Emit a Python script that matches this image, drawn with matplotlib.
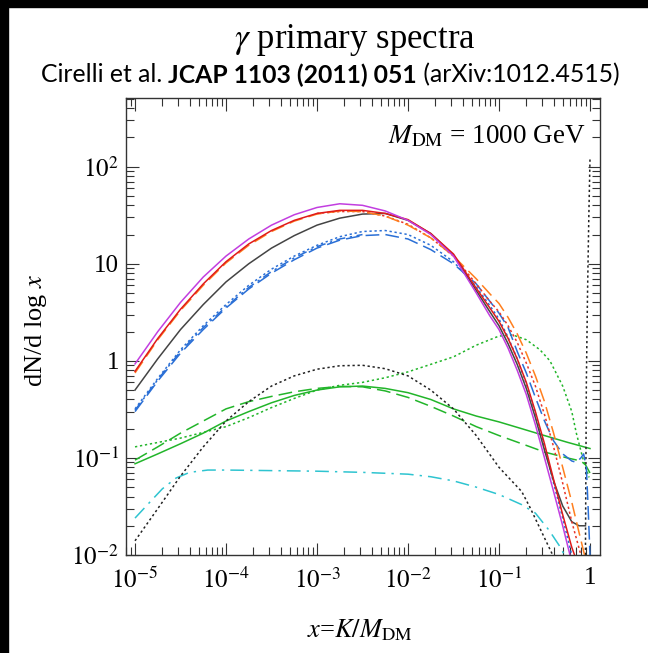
"""
Gamma primary spectra for M_DM = 1000 GeV (PPPC 4 DM ID style figure).
"""

import matplotlib

matplotlib.use("Agg")
import matplotlib.pyplot as plt
import numpy as np
from matplotlib.patches import Rectangle

# ---- values: log10(x), dN/dlog x ----
grid = [-5, -4.75, -4.5, -4.25, -4, -3.75, -3.5, -3.25, -3, -2.75, -2.5, -2.25, -2,
        -1.75, -1.5, -1.25]
tail = [-1.1, -1.0, -0.9, -0.8, -0.7, -0.6, -0.5, -0.4, -0.3]

magenta_lx = grid + tail + [-0.22]
magenta_y = [0.93, 2.0, 4.0, 7.3, 12, 18, 25, 32, 38, 41.5, 40, 35, 28, 20, 12, 5.0,
             2.9, 2.1, 1.35, 0.8, 0.45, 0.22, 0.1, 0.045, 0.02, 0.01]

red_lx = grid + tail + [-0.2, -0.17]
red_y = [0.78, 1.7, 3.4, 6.2, 10.5, 16, 22, 28, 33, 35.5, 35.5, 33, 28.5, 20.5, 12.6, 5.6,
         3.5, 2.55, 1.7, 1.05, 0.6, 0.3, 0.14, 0.06, 0.026, 0.012, 0.01]

orange_lx = grid + tail + [-0.2, -0.12, -0.06]
orange_y = [0.75, 1.65, 3.3, 6.0, 10.2, 15.5, 21.5, 27.5, 32.5, 35, 34.5, 31, 25, 18.5, 12, 7.0,
            4.9, 3.9, 2.8, 1.9, 1.2, 0.7, 0.38, 0.18, 0.08, 0.035, 0.017, 0.01]

reddot_lx = [-3, -2.75, -2.5, -2.25, -2, -1.75, -1.5, -1.25] + tail + [-0.2, -0.1]
reddot_y = [33, 34.5, 34.5, 31, 25.5, 18.5, 12, 6.2,
            4.1, 3.2, 2.3, 1.55, 0.95, 0.55, 0.28, 0.13, 0.055, 0.022, 0.01]

black_lx = grid + tail + [-0.2, -0.12, -0.05]
black_y = [0.5, 1.05, 2.1, 3.8, 6.5, 10, 14.5, 19.5, 25, 29.5, 32.5, 33, 28, 20.5, 12.3, 5.3,
           3.2, 2.3, 1.5, 0.92, 0.52, 0.26, 0.12, 0.058, 0.032, 0.022, 0.02, 0.02]

bluedash_lx = grid + tail + [-0.2, -0.15, -0.1, -0.07, -0.04, -0.02, 0.0]
bluedash_y = [0.3, 0.62, 1.2, 2.1, 3.5, 5.5, 8, 11, 14.5, 17.5, 19.5, 20, 18, 14, 10, 6.2,
              4.1, 3.1, 2.2, 1.25, 0.75, 0.42, 0.24, 0.15, 0.11, 0.093, 0.09, 0.1, 0.11, 0.08,
              0.03, 0.01]

bluedot_lx = grid + tail + [-0.2]
bluedot_y = [0.32, 0.66, 1.3, 2.3, 3.8, 6, 8.8, 12, 15.5, 19, 21.5, 22, 20, 15.5, 10.5, 5.8,
             3.7, 2.7, 1.75, 1.05, 0.58, 0.29, 0.13, 0.055, 0.024, 0.01]

bluedashdot_lx = [-5, -4.75, -4.5, -4.25, -4, -3.75, -3.5, -3.25, -3, -2.75, -2.5]
bluedashdot_y = [0.31, 0.64, 1.25, 2.2, 3.6, 5.7, 8.3, 11.5, 15, 18, 20]

blackdot_lx = grid + [-1, -0.75, -0.66, -0.5, -0.41]
blackdot_y = [0.014, 0.03, 0.065, 0.13, 0.24, 0.38, 0.55, 0.7, 0.82, 0.89, 0.9, 0.83, 0.7, 0.5,
              0.32, 0.17, 0.08, 0.045, 0.031, 0.015, 0.01]

spike_lx = [-0.05, -0.04, -0.027, -0.013, 0.0]
spike_y = [0.01, 0.6, 5, 30, 120]

greensolid_lx = grid + [-1, -0.75, -0.5, -0.25, 0.0]
greensolid_y = [0.087, 0.11, 0.14, 0.18, 0.24, 0.3, 0.37, 0.44, 0.5, 0.54, 0.55, 0.52, 0.47,
                0.4, 0.32, 0.27, 0.235, 0.2, 0.17, 0.145, 0.125]

greendash_lx = grid + [-1, -0.75, -0.5, -0.25, -0.1, -0.05, 0.0]
greendash_y = [0.095, 0.13, 0.18, 0.24, 0.32, 0.38, 0.43, 0.48, 0.52, 0.545, 0.54, 0.49, 0.42,
               0.34, 0.27, 0.21, 0.17, 0.14, 0.115, 0.1, 0.093, 0.085, 0.07]

greendot_lx = [-5, -4.5, -4, -3.75, -3.5, -3.25, -3, -2.75, -2.5, -2.25, -2, -1.75, -1.5, -1.25,
               -1, -0.85, -0.7, -0.55, -0.44, -0.3, -0.2, -0.15, -0.08, -0.01]
greendot_y = [0.13, 0.16, 0.21, 0.26, 0.33, 0.41, 0.5, 0.56, 0.6, 0.67, 0.77, 0.92, 1.1, 1.45,
              1.8, 1.85, 1.65, 1.3, 1.0, 0.55, 0.3, 0.18, 0.1, 0.063]

cyan_lx = [-5, -4.85, -4.7, -4.55, -4.4, -4.2, -4, -3.5, -3, -2.5, -2, -1.75, -1.5, -1.25, -1,
           -0.75, -0.6, -0.45, -0.34, -0.28]
cyan_y = [0.024, 0.034, 0.048, 0.062, 0.071, 0.075, 0.075, 0.074, 0.073, 0.071, 0.068, 0.064,
          0.058, 0.05, 0.042, 0.033, 0.027, 0.018, 0.0126, 0.01]

xtick_vals = [1e-5, 1e-4, 1e-3, 1e-2, 1e-1, 1]
xtick_labels = [r"$10^{-5}$", r"$10^{-4}$", r"$10^{-3}$", r"$10^{-2}$", r"$10^{-1}$", "1"]
ytick_vals = [1e-2, 1e-1, 1, 10, 100]
ytick_labels = [r"$10^{-2}$", r"$10^{-1}$", "1", "10", r"$10^{2}$"]

plt.rcParams["font.family"] = "serif"
plt.rcParams["font.serif"] = ["Liberation Serif", "DejaVu Serif"]
plt.rcParams["mathtext.fontset"] = "stix"

W, H = 648, 653
fig = plt.figure(figsize=(W / 100, H / 100), dpi=100)
fig.patch.set_facecolor("white")

# black frame strips of the screenshot
fig.patches.append(Rectangle((0, 0), 8 / W, 1, transform=fig.transFigure, color="black", zorder=0))
fig.patches.append(Rectangle((0, 1 - 7 / H), 1, 7 / H, transform=fig.transFigure, color="black", zorder=0))

ax = fig.add_axes([126 / W, 1 - 555 / H, (600 - 126) / W, (555 - 98) / H])
ax.set_xscale("log")
ax.set_yscale("log")

DOT = (1.5, 1.8)
DASH = (9, 4)
DASHDOT = (9, 4, 1.5, 4)


def curve(lx, y, color, dashes=None):
    kw = dict(color=color, lw=1.1)
    if dashes:
        kw["dashes"] = dashes
    ax.plot(np.power(10.0, lx), y, **kw)


curve(cyan_lx, cyan_y, "#2ec4d0", DASHDOT)
curve(greendot_lx, greendot_y, "#22b52a", DOT)
curve(greendash_lx, greendash_y, "#22b52a", DASH)
curve(greensolid_lx, greensolid_y, "#22b52a")
curve(blackdot_lx, blackdot_y, "#222222", DOT)
curve(spike_lx, spike_y, "#222222", DOT)
curve(bluedashdot_lx, bluedashdot_y, "#2a6fd6", (6, 3, 1.5, 3))
curve(bluedash_lx, bluedash_y, "#2a6fd6", DASH)
curve(bluedot_lx, bluedot_y, "#2a6fd6", DOT)
curve(black_lx, black_y, "#444444")
curve(reddot_lx, reddot_y, "#e8352a", DOT)
curve(orange_lx, orange_y, "#ff7f1e", DASH)
curve(red_lx, red_y, "#e01a1a")
curve(magenta_lx, magenta_y, "#c23ee0")

ax.set_xlim(10 ** -5.099, 10 ** 0.11)
ax.set_ylim(0.01, 510)

ax.set_xticks(xtick_vals)
ax.set_xticklabels(xtick_labels)
ax.set_yticks(ytick_vals)
ax.set_yticklabels(ytick_labels)
ax.tick_params(which="both", direction="in", top=True, right=True, color="#333333", width=0.8,
               labelsize=18)
ax.tick_params(which="major", length=9)
ax.tick_params(which="minor", length=6)
ax.tick_params(axis="x", pad=9)
ax.tick_params(axis="y", pad=5)
for s in ax.spines.values():
    s.set_color("#333333")
    s.set_linewidth(1.0)

ax.text(0.97, 0.915, r"$M_{\rm DM}$ = 1000 GeV", transform=ax.transAxes, ha="right", va="center",
        fontsize=19.5)

fig.text(36 / W, 1 - 330 / H, r"dN/d log $x$", rotation=90, ha="center", va="center", fontsize=19)
fig.text(360 / W, 1 - 630 / H, r"$x$=$K/M_{\rm DM}$", ha="center", va="center", fontsize=19)

fig.text(355 / W, 1 - 40 / H, r"$\gamma$ primary spectra", ha="center", va="center", fontsize=25)

# subtitle made of a normal / bold / normal run, centred as one line
sub_parts = [("Cirelli et al. ", "normal"), ("JCAP 1103 (2011) 051", "bold"),
             (" (arXiv:1012.4515)", "normal")]
renderer = fig.canvas.get_renderer()
texts, widths = [], []
for s, weight in sub_parts:
    t = fig.text(0, 1 - 75 / H, s, ha="left", va="center", fontsize=17.8, family="Lato",
                 weight=weight)
    texts.append(t)
    widths.append(t.get_window_extent(renderer).width)
x0 = 330 - sum(widths) / 2
for t, w in zip(texts, widths):
    t.set_x(x0 / W)
    x0 += w

fig.savefig("out.png", dpi=100)
